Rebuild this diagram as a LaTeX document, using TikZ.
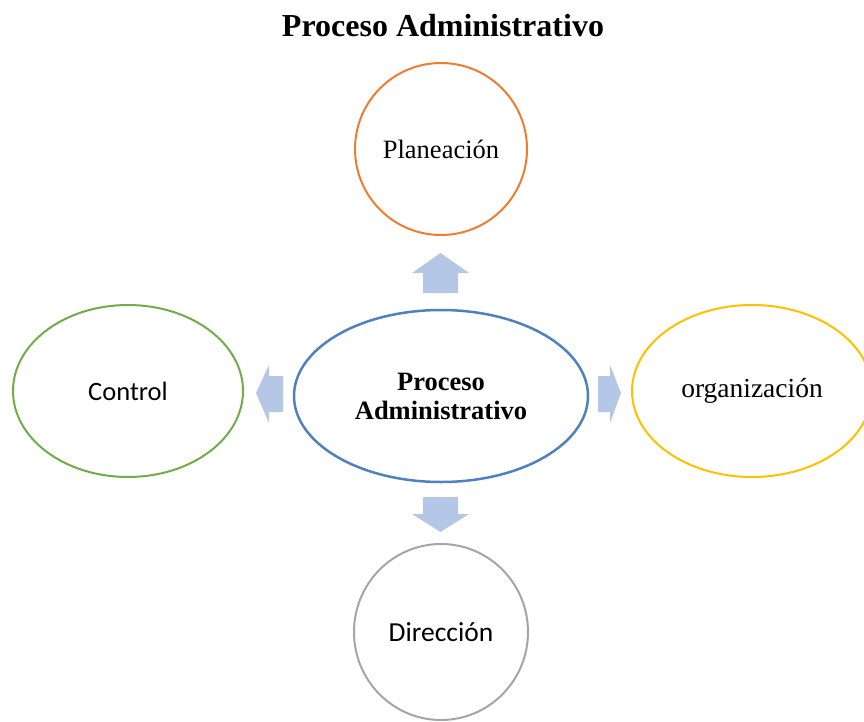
\documentclass[tikz,border=0pt]{standalone}
\usepackage{fontspec}
\setmainfont{Liberation Serif}
\newfontfamily\calibri{Carlito}
\usetikzlibrary{shapes.geometric}

\definecolor{planColor}{RGB}{237,125,49}
\definecolor{procColor}{RGB}{79,129,189}
\definecolor{orgColor}{RGB}{255,192,0}
\definecolor{ctrlColor}{RGB}{112,173,71}
\definecolor{dirColor}{RGB}{165,165,165}
\definecolor{arrowColor}{RGB}{180,199,231}

\begin{document}
\begin{tikzpicture}[x=1pt,y=-1pt,
					every node/.style={ellipse, line width=2pt, align=center, inner sep=0pt},
					stage/.style={draw, minimum width=172pt, minimum height=172pt},
					blockarrow/.style={fill=arrowColor}]
\useasboundingbox (0,0) rectangle (864,722);
\node[rectangle, font=\bfseries\fontsize{32}{38}\selectfont] (title) at (443,26) {Proceso Administrativo};
\node[draw=procColor, line width=2.5pt, minimum width=294pt, minimum height=172pt,
	font=\bfseries\fontsize{26.5}{29}\selectfont] (proceso) at (441,396) {Proceso\\Administrativo};
\node[stage, draw=planColor, font=\fontsize{26.5}{30}\selectfont] (planeacion) at (441,149) {Planeación};
\node[stage, draw=orgColor, minimum width=240pt, font=\fontsize{27.5}{30}\selectfont] (organizacion) at (752,391) {organización};
\node[stage, draw=ctrlColor, minimum width=230pt, font=\calibri\fontsize{26.5}{30}\selectfont] (control) at (128,391) {Control};
\node[stage, draw=dirColor, minimum width=174pt, minimum height=176pt, font=\calibri\fontsize{27.5}{30}\selectfont] (direccion) at (441,632) {Dirección};
% block arrows
\fill[blockarrow] (423,293) -- (423,273) -- (412,273) -- (440.5,253) -- (469,273) -- (458,273) -- (458,293) -- cycle;
\fill[blockarrow] (423,497) -- (423,514) -- (412,514) -- (440.5,532) -- (469,514) -- (458,514) -- (458,497) -- cycle;
\fill[blockarrow] (283,376) -- (269,376) -- (269,365) -- (256,393) -- (269,423) -- (269,412) -- (283,412) -- cycle;
\fill[blockarrow] (598,376) -- (610,376) -- (610,365) -- (621,393) -- (610,423) -- (610,412) -- (598,412) -- cycle;
\end{tikzpicture}
\end{document}
